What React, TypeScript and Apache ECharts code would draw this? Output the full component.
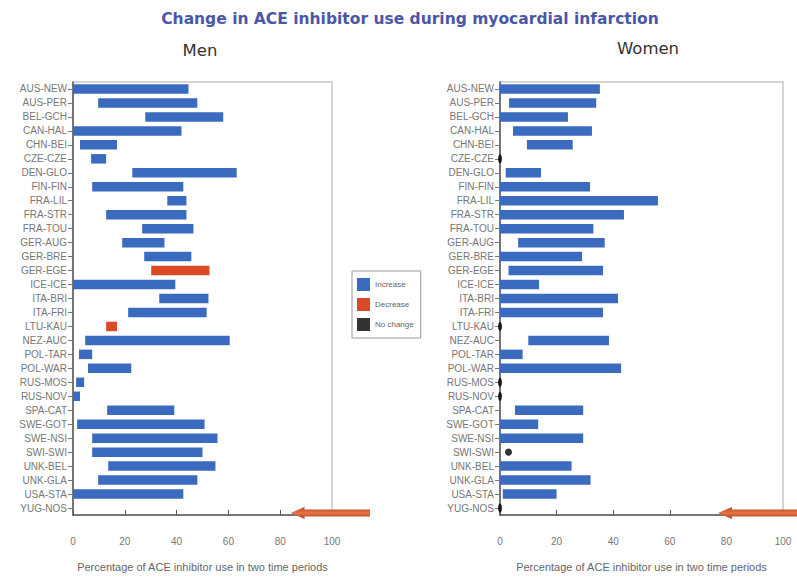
import React, { useEffect, useRef } from "react";
import * as echarts from "echarts";

const categories = [
  "AUS-NEW", "AUS-PER", "BEL-GCH", "CAN-HAL", "CHN-BEI", "CZE-CZE", "DEN-GLO", "FIN-FIN",
  "FRA-LIL", "FRA-STR", "FRA-TOU", "GER-AUG", "GER-BRE", "GER-EGE", "ICE-ICE", "ITA-BRI",
  "ITA-FRI", "LTU-KAU", "NEZ-AUC", "POL-TAR", "POL-WAR", "RUS-MOS", "RUS-NOV", "SPA-CAT",
  "SWE-GOT", "SWE-NSI", "SWI-SWI", "UNK-BEL", "UNK-GLA", "USA-STA", "YUG-NOS",
];

// Men: first and second period values
const menFrom = [0, 9.7, 27.9, 0, 2.7, 7, 22.9, 7.4, 36.4, 12.8, 26.7, 19, 27.5, 52.7, 0, 33.3,
  21.3, 17, 4.7, 2.3, 5.8, 1.2, 0, 13.2, 1.6, 7.4, 7.4, 13.6, 9.7, 0, null];
const menTo = [44.6, 48, 58, 41.9, 17, 12.8, 63.2, 42.6, 43.8, 43.8, 46.5, 35.3, 45.7, 30.2, 39.5, 52.3,
  51.6, 12.8, 60.5, 7.4, 22.5, 4.3, 2.7, 39.1, 50.8, 55.8, 50, 55, 48, 42.6, null];

// Women: first and second period values
const womenFrom = [0, 3.2, 0, 4.6, 9.5, 0, 2, 0, 0, 0, 0, 6.4, 0, 3, 0, 0,
  0, 0, 10, 0, 0, 0, 0, 5.3, 0, 0, 3, 0, 0, 1, 0];
const womenTo = [35.3, 34, 24, 32.5, 25.7, 0, 14.5, 31.8, 55.8, 43.8, 33, 37, 29, 36.4, 13.8, 41.7,
  36.4, 0, 38.5, 8, 42.8, 0, 0, 29.4, 13.5, 29.4, 3, 25.3, 32, 20, 0];

const xTicks = [0, 20, 40, 60, 80, 100];
const arrowAt = [84, 77]; // value where each red arrow points (men, women)

const BLUE = "#3a6bbf";
const RED = "#da4a24";
const FONT = "Liberation Sans, Arial, sans-serif";

function split(from: (number | null)[], to: (number | null)[]) {
  const inc: number[][] = [], dec: number[][] = [], same: number[][] = [];
  from.forEach((a, i) => {
    const b = to[i];
    if (a == null || b == null) return;
    if (b > a) inc.push([i, a, b]);
    else if (b < a) dec.push([i, b, a]);
    else same.push([a, i]);
  });
  return { inc, dec, same };
}

export default function App() {
  const ref = useRef<HTMLDivElement>(null);
  useEffect(() => {
    if (!ref.current) return;
    const chart = echarts.init(ref.current, null, { renderer: "svg" });
    const men = split(menFrom, menTo);
    const women = split(womenFrom, womenTo);

    const rangeSeries = (name: string, color: string, data: number[][], gi: number) => ({
      type: "custom",
      name,
      xAxisIndex: gi,
      yAxisIndex: gi,
      itemStyle: { color },
      encode: { x: [1, 2], y: 0 },
      data,
      renderItem: (params: any, api: any) => {
        const c = api.value(0);
        const p0 = api.coord([api.value(1), c]);
        const p1 = api.coord([api.value(2), c]);
        const h = api.size([0, 1])[1] * 0.68;
        return {
          type: "rect",
          shape: { x: p0[0], y: p0[1] - h / 2, width: p1[0] - p0[0], height: h },
          style: { fill: color },
        };
      },
    });

    const grids = [
      { left: 73, top: 82, width: 259, height: 440 },
      { left: 500, top: 82, width: 283, height: 440 },
    ];

    const xAxis = grids.map((_, gi) => ({
      type: "value",
      gridIndex: gi,
      min: xTicks[0],
      max: xTicks[xTicks.length - 1],
      interval: 20,
      splitLine: { show: false },
      axisLine: { show: true, lineStyle: { color: "#555", width: 1.5 } },
      axisTick: { show: true, inside: true, length: 5, lineStyle: { color: "#555" } },
      axisLabel: { color: "#777", fontSize: 10, margin: 21, fontFamily: FONT },
      name: "Percentage of ACE inhibitor use in two time periods",
      nameLocation: "middle",
      nameGap: 46,
      nameTextStyle: { color: "#666", fontSize: 11, fontFamily: FONT },
    }));

    const yAxis = grids.map((_, gi) => ({
      type: "category",
      gridIndex: gi,
      data: categories,
      inverse: true,
      axisLine: { show: true, lineStyle: { color: "#555", width: 1.5 } },
      axisTick: { show: true, length: 5, alignWithLabel: true, lineStyle: { color: "#777" } },
      axisLabel: { color: "#777", fontSize: 10, margin: 6, fontFamily: FONT, interval: 0 },
      splitLine: { show: false },
    }));

    const arrow = (tipX: number, endX: number, y: number) => ({
      type: "polygon",
      shape: {
        points: [
          [tipX, y], [tipX + 14, y - 6], [tipX + 14, y - 3.5], [endX, y - 3.5],
          [endX, y + 3.5], [tipX + 14, y + 3.5], [tipX + 14, y + 6],
        ],
      },
      style: {
        fill: new echarts.graphic.LinearGradient(0, 0, 0, 1, [
          { offset: 0, color: "#b8401f" },
          { offset: 0.5, color: "#e67546" },
          { offset: 1, color: "#b03a1c" },
        ]),
      },
      z: 100,
    });

    const gridPx = (gi: number, v: number) => grids[gi].left + (v / 100) * grids[gi].width;

    chart.setOption({
      animation: false,
      backgroundColor: "#ffffff",
      grid: grids.map((g) => ({ ...g, show: true, borderColor: "#c8c8c8", borderWidth: 1.5 })),
      xAxis,
      yAxis,
      legend: {
        data: ["Increase", "Decrease", "No change"],
        orient: "vertical",
        left: 352,
        top: 271,
        icon: "rect",
        itemWidth: 13,
        itemHeight: 13,
        itemGap: 7,
        padding: [7, 7, 7, 5],
        borderColor: "#999",
        borderWidth: 1,
        textStyle: { color: "#666", fontSize: 8, fontFamily: FONT },
        selectedMode: false,
      },
      series: [
        rangeSeries("Increase", BLUE, men.inc, 0),
        rangeSeries("Decrease", RED, men.dec, 0),
        rangeSeries("Increase", BLUE, women.inc, 1),
        rangeSeries("Decrease", RED, women.dec, 1),
        {
          type: "scatter",
          name: "No change",
          xAxisIndex: 1,
          yAxisIndex: 1,
          itemStyle: { color: "#000" },
          data: women.same.map((d) => ({
            value: d,
            symbolSize: d[0] === 0 ? [4, 9] : [7, 7],
          })),
          symbol: "circle",
          z: 5,
        },
        {
          type: "scatter",
          name: "No change",
          xAxisIndex: 0,
          yAxisIndex: 0,
          itemStyle: { color: "#000" },
          data: men.same,
          symbolSize: [4, 9],
        },
      ],
      graphic: [
        {
          type: "text",
          x: 410,
          y: 19,
          style: {
            text: "Change in ACE inhibitor use during myocardial infarction",
            fill: "#4a57a8",
            font: "bold 15.5px 'DejaVu Sans', sans-serif",
            textAlign: "center",
            textVerticalAlign: "middle",
          },
        },
        {
          type: "text",
          x: 200,
          y: 50,
          style: {
            text: "Men",
            fill: "#333",
            font: "16.5px 'DejaVu Sans', sans-serif",
            textAlign: "center",
            textVerticalAlign: "middle",
          },
        },
        {
          type: "text",
          x: 648,
          y: 48,
          style: {
            text: "Women",
            fill: "#333",
            font: "16.5px 'DejaVu Sans', sans-serif",
            textAlign: "center",
            textVerticalAlign: "middle",
          },
        },
        arrow(gridPx(0, arrowAt[0]), 370, 513),
        arrow(gridPx(1, arrowAt[1]), 797, 513),
      ],
    });
    return () => chart.dispose();
  }, []);
  return (
    <div
      ref={ref}
      style={{ position: "absolute", left: 0, top: 0, width: 797, height: 577 }}
    />
  );
}
